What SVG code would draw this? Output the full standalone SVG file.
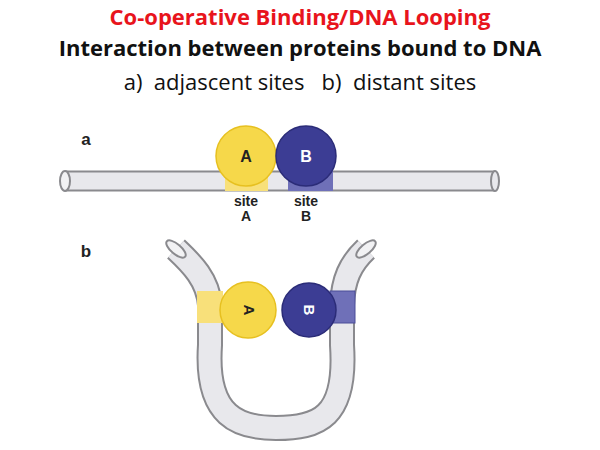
<svg xmlns="http://www.w3.org/2000/svg" width="600" height="450" viewBox="0 0 600 450">
<style>
.t{font-family:"Open Sans","Liberation Sans",sans-serif;text-anchor:middle}
.l{font-family:"Liberation Sans",Arial,sans-serif;font-weight:bold;fill:#222;text-anchor:middle}
.o{fill:none;stroke:#8a8a8e;stroke-linecap:butt}
.i{fill:none;stroke:#e8e8ec;stroke-linecap:butt}
.ya{fill:#f6d84a;stroke:#e7c020}
.bb{fill:#3c3d94;stroke:#2b2c78}
</style>
<rect width="600" height="450" fill="#fff"/>
<g id="title">
<text class="t" x="300" y="25" style="font-size:22px" font-weight="bold" fill="#e8141c">Co-operative Binding/DNA Looping</text>
<text class="t" x="300" y="56" style="font-size:22px" font-weight="bold" fill="#111">Interaction between proteins bound to DNA</text>
<text class="t" x="300" y="90" style="font-size:22px" fill="#111" xml:space="preserve">a)  adjascent sites   b)  distant sites</text>
</g>
<g id="panel-a">
<text class="l" x="86" y="145" style="font-size:17px">a</text>
<path class="o" d="M65,181 H495" stroke-width="21"/>
<path class="i" d="M65,181 H495" stroke-width="17"/>
<ellipse cx="65" cy="181" rx="5" ry="10" fill="#f2f2f4" stroke="#8a8a8e" stroke-width="2"/>
<ellipse cx="495" cy="181" rx="4" ry="10" fill="#e8e8ec" stroke="#8a8a8e" stroke-width="2"/>
<rect x="225" y="171" width="43" height="20" fill="#f8e07a"/>
<rect x="288" y="171" width="45" height="20" fill="#6f70b8"/>
<circle class="ya" cx="246" cy="156" r="30" stroke-width="1.5"/>
<circle class="bb" cx="306" cy="156" r="30" stroke-width="1.5"/>
<text class="l" x="246" y="162" style="font-size:16px">A</text>
<text class="l" x="306" y="162" style="font-size:16px;fill:#fff">B</text>
<text class="l" x="246" y="206" style="font-size:14px">site</text>
<text class="l" x="246" y="221" style="font-size:14px">A</text>
<text class="l" x="306" y="206" style="font-size:14px">site</text>
<text class="l" x="306" y="221" style="font-size:14px">B</text>
</g>
<g id="panel-b">
<text class="l" x="86" y="257" style="font-size:17px">b</text>
<path class="o" stroke-width="26" d="M176,249 C192,264 208,280 210,305 L210,345 C205,418 240,428 276,428 C318,428 347,418 342,345 L342,305 C343,280 350,264 366,249"/>
<path class="i" stroke-width="22" d="M176,249 C192,264 208,280 210,305 L210,345 C205,418 240,428 276,428 C318,428 347,418 342,345 L342,305 C343,280 350,264 366,249"/>
<ellipse cx="176" cy="249" rx="12" ry="5" transform="rotate(40 176 249)" fill="#f2f2f4" stroke="#8a8a8e" stroke-width="2"/>
<ellipse cx="366" cy="249" rx="12" ry="5" transform="rotate(-40 366 249)" fill="#f2f2f4" stroke="#8a8a8e" stroke-width="2"/>
<rect x="197" y="291" width="26" height="32" fill="#f8e07a"/>
<rect x="330" y="291" width="25" height="32" fill="#6f70b8" stroke="#4b4c98"/>
<circle class="ya" cx="248" cy="310" r="28" stroke-width="1.5"/>
<circle class="bb" cx="309" cy="310" r="27" stroke-width="1.5"/>
<text class="l" x="0" y="0" style="font-size:15px" transform="translate(244 310) rotate(90)">A</text>
<text class="l" x="0" y="0" style="font-size:15px;fill:#fff" transform="translate(304 310) rotate(90)">B</text>
</g>
</svg>
